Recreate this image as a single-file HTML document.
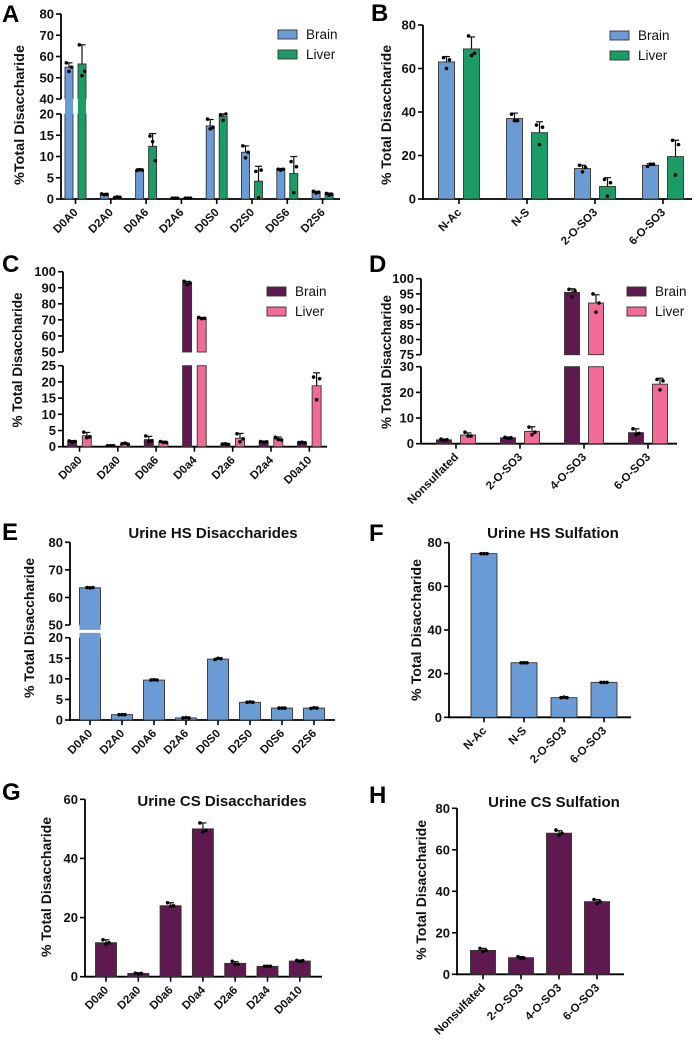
<!DOCTYPE html>
<html><head><meta charset="utf-8"><style>
html,body{margin:0;padding:0;background:#fff;}
svg{display:block;font-family:"Liberation Sans",Arial,sans-serif;}
</style></head><body>
<svg id="fig" width="694" height="1044" viewBox="0 0 694 1044"></svg>
<script>
// ---------- DATA ----------
const aCats=["D0A0","D2A0","D0A6","D2A6","D0S0","D2S0","D0S6","D2S6"];
const aBrain=[55,1.1,6.8,0.2,17.2,11,6.9,1.6];
const aBrainSd=[2,0.2,0.3,0.1,1.5,1.5,0.3,0.2];
const aBrainDots=[[57,53,55],[1.2,1,1.1],[6.7,6.9,6.8],[0.2,0.2,0.2],[18.8,16.5,16.8],[12.5,9.7,11],[7,6.8,7],[1.8,1.4,1.6]];
const aLiver=[56.5,0.4,12.4,0.2,19.4,4.2,6.0,1.1];
const aLiverSd=[9,0.2,3,0.1,0.8,3.5,4,0.3];
const aLiverDots=[[65.5,51,53],[0.3,0.5,0.4],[14.8,13.5,9],[0.2,0.2,0.2],[19.8,18.5,20],[6.5,0.3,6.8],[8.8,1.5,7.6],[1.3,0.9,1.1]];
const aTicksTop=[40,50,60,70,80];
const aTicksBot=[0,5,10,15,20];

const bCats=["N-Ac","N-S","2-O-SO3","6-O-SO3"];
const bBrain=[63,37,14,15.5];
const bBrainSd=[2.5,2.5,1.5,0.8];
const bBrainDots=[[65,60,64],[39,36,36],[15.5,12.5,14.5],[15,16,16]];
const bLiver=[69,30.5,5.8,19.5];
const bLiverSd=[5.5,5,4,7.5];
const bLiverDots=[[75,66,67],[34,25,33],[9,1.3,7.5],[27,11,25]];
const bTicks=[0,20,40,60,80];

const cCats=["D0a0","D2a0","D0a6","D0a4","D2a6","D2a4","D0a10"];
const cBrain=[1.6,0.3,2.2,93,0.8,1.5,1.3];
const cBrainSd=[0.3,0.1,1,1,0.2,0.2,0.2];
const cBrainDots=[[1.8,1.4,1.6],[0.3,0.3,0.3],[3.3,1.5,1.8],[94,92,93],[0.8,0.9,0.7],[1.6,1.4,1.5],[1.3,1.4,1.2]];
const cLiver=[3.4,0.9,1.4,71,2.6,2.4,18.8];
const cLiverSd=[1,0.3,0.3,0.5,1.5,0.6,4];
const cLiverDots=[[4.5,2.8,3],[0.9,1.1,0.7],[1.6,1.3,1.3],[71.5,70.8,71],[4,1.5,2.4],[2.9,2.2,2.1],[21.5,14.5,21]];
const cTicksTop=[50,60,70,80,90,100];
const cTicksBot=[0,5,10,15,20,25];

const dCats=["Nonsulfated","2-O-SO3","4-O-SO3","6-O-SO3"];
const dBrain=[1.5,2.3,95.5,4.3];
const dBrainSd=[0.3,0.3,1.2,1.5];
const dBrainDots=[[1.8,1.3,1.5],[2.5,2.1,2.3],[96.5,94,96],[5.8,3.5,4]];
const dLiver=[3.4,4.8,92,23.2];
const dLiverSd=[0.8,1.8,2.7,2.3];
const dLiverDots=[[4.5,3,3],[6.5,3.5,4.5],[95,89,92],[25,21,24.5]];
const dTicksTop=[75,80,85,90,95,100];
const dTicksBot=[0,10,20,30];

const eCats=["D0A0","D2A0","D0A6","D2A6","D0S0","D2S0","D0S6","D2S6"];
const eVals=[63.5,1.3,9.7,0.5,14.8,4.3,2.9,2.9];
const eSd=[0.2,0.1,0.1,0.1,0.2,0.1,0.1,0.1];
const eDots=[[63.6,63.5,63.6],[1.3,1.3,1.3],[9.7,9.8,9.7],[0.5,0.6,0.5],[14.7,15,14.9],[4.3,4.4,4.3],[2.9,2.9,2.9],[2.8,3.0,2.9]];
const eTicksTop=[50,60,70,80];
const eTicksBot=[0,5,10,15,20];

const fCats=["N-Ac","N-S","2-O-SO3","6-O-SO3"];
const fVals=[75,25,9,16];
const fSd=[0.1,0.1,0.2,0.1];
const fDots=[[75,75,75],[25,25,25],[9,9.2,9],[16,16,16]];
const fTicks=[0,20,40,60,80];

const gCats=["D0a0","D2a0","D0a6","D0a4","D2a6","D2a4","D0a10"];
const gVals=[11.5,1.1,24,50,4.5,3.5,5.3];
const gSd=[1,0.2,1,2,0.6,0.2,0.3];
const gDots=[[12.5,11,11.5],[1.2,1,1.1],[25,23.8,24],[52,49,49.5],[5.2,4.2,4.2],[3.5,3.5,3.5],[5.5,5.2,5.4]];
const gTicks=[0,20,40,60];

const hCats=["Nonsulfated","2-O-SO3","4-O-SO3","6-O-SO3"];
const hVals=[11.5,8,68,35];
const hSd=[1,0.5,1.2,1];
const hDots=[[12.5,11,11.5],[8.5,7.7,7.8],[69.5,67,68],[36,34,35]];
const hTicks=[0,20,40,60,80];

// ---------- DRAW ----------
const NS="http://www.w3.org/2000/svg";
const svg=document.getElementById('fig');
const BLUE="#6b9bd4",GREEN="#1b9b66",PURPLE="#5e1a4f",PINK="#f06b96";
function mk(tag,attrs,parent,txt){const e=document.createElementNS(NS,tag);for(const k in attrs)e.setAttribute(k,attrs[k]);if(txt!==undefined)e.textContent=txt;(parent||svg).appendChild(e);return e;}

function panel(c){
  const g=mk('g',{});
  
  
  const segs=c.segs;
  function y(v){
    for(let i=0;i<segs.length;i++){const s=segs[i];
      if(v<=s.max||i==segs.length-1){const vv=Math.max(s.min,Math.min(s.max,v));return s.yb-(vv-s.min)/(s.max-s.min)*(s.yb-s.yt);}
      if(i<segs.length-1&&v<segs[i+1].min){return s.yt;}
    }}
  function cx(i){return c.first+i*c.spacing;}
  segs.forEach((s,si)=>{
    const ax=mk('line',{x1:c.ax,x2:c.ax,y1:s.yt,y2:s.yb+(si==0?0.8:0),stroke:'#000','stroke-width':1.8},g);
    
    
    s.ticks.forEach(t=>{
      mk('line',{x1:c.ax-5,x2:c.ax,y1:y(t),y2:y(t),stroke:'#000','stroke-width':1.6},g);
      const tl=mk('text',{x:c.ax-7,y:y(t)+4.5,'text-anchor':'end','font-size':13,'font-weight':'bold',fill:'#111'},g,String(t));
      
      
    });
  });
  const base=segs[0].yb;
  const xa=mk('line',{x1:c.ax-0.9,x2:c.xEnd,y1:base,y2:base,stroke:'#000','stroke-width':1.8},g);
  
  
  c.cats.forEach((cat,i)=>{
    mk('line',{x1:cx(i),x2:cx(i),y1:base,y2:base+5,stroke:'#000','stroke-width':1.6},g);
    const tx=cx(i)+3,ty=base+14;
    const lab=mk('text',{x:tx,y:ty,'text-anchor':'end','font-size':11.5,'font-weight':'bold',fill:'#111',transform:`rotate(-45 ${tx} ${ty})`},g,cat);
    
    
  });
  c.series.forEach(sr=>{
    sr.vals.forEach((v,i)=>{
      const x=cx(i)+sr.off-c.bw/2;
      segs.forEach((s,si)=>{
        if(v>s.min){const top=Math.min(v,s.max);
          const r=mk('rect',{x:x,y:y(top),width:c.bw,height:Math.max(0,y(s.min)-y(top)),fill:sr.color,stroke:'#333','stroke-width':0.9},g);
          
          
        }
      });
      if(segs.length>1&&v>segs[1].min&&c.gap!==undefined){
        const y1=segs[1].yb,y2=segs[0].yt;
        const fr=mk('rect',{x:x,y:y1-1,width:c.bw,height:y2-y1+2,fill:sr.color},g);
        
        
        if(c.gap>0){mk('rect',{x:x-1,y:(y1+y2)/2-c.gap/2,width:c.bw+2,height:c.gap,fill:'#fff'},g);}
      }
      const mcx=x+c.bw/2,top=v+sr.sd[i];
      mk('line',{x1:mcx,x2:mcx,y1:y(v),y2:y(top),stroke:'#111','stroke-width':1.2},g);
      mk('line',{x1:mcx-3.5,x2:mcx+3.5,y1:y(top),y2:y(top),stroke:'#111','stroke-width':1.2},g);
      sr.dots[i].forEach((d,k)=>{
        const dot=mk('circle',{cx:mcx+(k-1)*Math.min(3,c.bw/3),cy:y(d),r:1.8,fill:'#000'},g);
        
        
      });
    });
  });
  const yt=mk('text',{x:c.ytx,y:c.yty,'text-anchor':'middle','font-size':14,'font-weight':'bold',fill:'#111',transform:`rotate(-90 ${c.ytx} ${c.yty})`,textLength:c.ytLen,lengthAdjust:'spacingAndGlyphs'},g,c.ytitle);
  
  
  const L=mk('text',{x:c.lx,y:c.ly,'font-size':24,'font-weight':'bold',fill:'#000'},g,c.id.toUpperCase());
  
  
  if(c.title){const t=mk('text',{x:c.tx,y:c.ty,'text-anchor':'middle','font-size':15,'font-weight':'bold',fill:'#111'},g,c.title);
    
    }
  if(c.legend){c.legend.forEach((lg,k)=>{
    const ly=c.legy+k*20;
    const sw=mk('rect',{x:c.legx,y:ly-4,width:19,height:9,fill:lg[1],stroke:'#333','stroke-width':0.9},g);
    
    
    const lt=mk('text',{x:c.legx+28,y:ly+5,'font-size':13.5,fill:'#111'},g,lg[0]);
    
    
  });}
}

panel({id:'a',ax:61,xEnd:340,first:75.5,spacing:35.3,bw:8,cats:aCats,gap:0,
  segs:[{min:0,max:20,yb:199,yt:114,ticks:aTicksBot},{min:40,max:80,yb:99,yt:14,ticks:aTicksTop}],
  series:[{name:'brain',vals:aBrain,sd:aBrainSd,dots:aBrainDots,color:BLUE,off:-6.5},{name:'liver',vals:aLiver,sd:aLiverSd,dots:aLiverDots,color:GREEN,off:6.5}],
  ytitle:'%Total Disaccharide',ytx:24,yty:115,ytLen:140,lx:2,ly:22,legx:278,legy:34,legend:[['Brain',BLUE],['Liver',GREEN]]});
panel({id:'b',ax:423,xEnd:692,first:459,spacing:68,bw:16,cats:bCats,
  segs:[{min:0,max:80,yb:199,yt:25,ticks:bTicks}],
  series:[{name:'brain',vals:bBrain,sd:bBrainSd,dots:bBrainDots,color:BLUE,off:-12.5},{name:'liver',vals:bLiver,sd:bLiverSd,dots:bLiverDots,color:GREEN,off:12.5}],
  ytitle:'% Total Disaccharide',ytx:391,yty:115,ytLen:140,lx:371,ly:21,legx:610,legy:35,legend:[['Brain',BLUE],['Liver',GREEN]]});
panel({id:'c',ax:63,xEnd:327,first:79.5,spacing:38.3,bw:9,cats:cCats,
  segs:[{min:0,max:25,yb:446.7,yt:365.7,ticks:cTicksBot},{min:50,max:100,yb:352,yt:271.7,ticks:cTicksTop}],
  series:[{name:'brain',vals:cBrain,sd:cBrainSd,dots:cBrainDots,color:PURPLE,off:-7.3},{name:'liver',vals:cLiver,sd:cLiverSd,dots:cLiverDots,color:PINK,off:7.3}],
  ytitle:'% Total Disaccharide',ytx:22,yty:360,ytLen:135,lx:2,ly:272,legx:267,legy:291,legend:[['Brain',PURPLE],['Liver',PINK]]});
panel({id:'d',ax:421,xEnd:677,first:456,spacing:64,bw:15,cats:dCats,
  segs:[{min:0,max:30,yb:443.7,yt:366.7,ticks:dTicksBot},{min:75,max:100,yb:354.7,yt:278.7,ticks:dTicksTop}],
  series:[{name:'brain',vals:dBrain,sd:dBrainSd,dots:dBrainDots,color:PURPLE,off:-12},{name:'liver',vals:dLiver,sd:dLiverSd,dots:dLiverDots,color:PINK,off:12}],
  ytitle:'% Total Disaccharide',ytx:391,yty:362,ytLen:134,lx:369,ly:272,legx:627,legy:291,legend:[['Brain',PURPLE],['Liver',PINK]]});
panel({id:'e',ax:70,xEnd:335,first:90,spacing:32,bw:21,cats:eCats,gap:3,
  segs:[{min:0,max:20,yb:720,yt:637.7,ticks:eTicksBot},{min:50,max:80,yb:625,yt:542.3,ticks:eTicksTop}],
  series:[{name:'urine',vals:eVals,sd:eSd,dots:eDots,color:BLUE,off:0}],
  ytitle:'% Total Disaccharide',ytx:34,yty:628,ytLen:140,lx:2,ly:540,title:'Urine HS Disaccharides',tx:213,ty:538});
panel({id:'f',ax:449,xEnd:631,first:484,spacing:40,bw:26,cats:fCats,
  segs:[{min:0,max:80,yb:717.3,yt:542.7,ticks:fTicks}],
  series:[{name:'urine',vals:fVals,sd:fSd,dots:fDots,color:BLUE,off:0}],
  ytitle:'% Total Disaccharide',ytx:421,yty:630,ytLen:142,lx:369,ly:541,title:'Urine HS Sulfation',tx:553,ty:538});
panel({id:'g',ax:85,xEnd:322,first:106,spacing:32.3,bw:21,cats:gCats,
  segs:[{min:0,max:60,yb:976.7,yt:799.3,ticks:gTicks}],
  series:[{name:'urine',vals:gVals,sd:gSd,dots:gDots,color:PURPLE,off:0}],
  ytitle:'% Total Disaccharide',ytx:51,yty:887,ytLen:140,lx:2,ly:800,title:'Urine CS Disaccharides',tx:222,ty:806});
panel({id:'h',ax:457,xEnd:624,first:483,spacing:38,bw:25,cats:hCats,
  segs:[{min:0,max:80,yb:974.3,yt:808.3,ticks:hTicks}],
  series:[{name:'urine',vals:hVals,sd:hSd,dots:hDots,color:PURPLE,off:0}],
  ytitle:'% Total Disaccharide',ytx:426,yty:890,ytLen:140,lx:369,ly:803,title:'Urine CS Sulfation',tx:554,ty:807});
</script>
</body></html>
